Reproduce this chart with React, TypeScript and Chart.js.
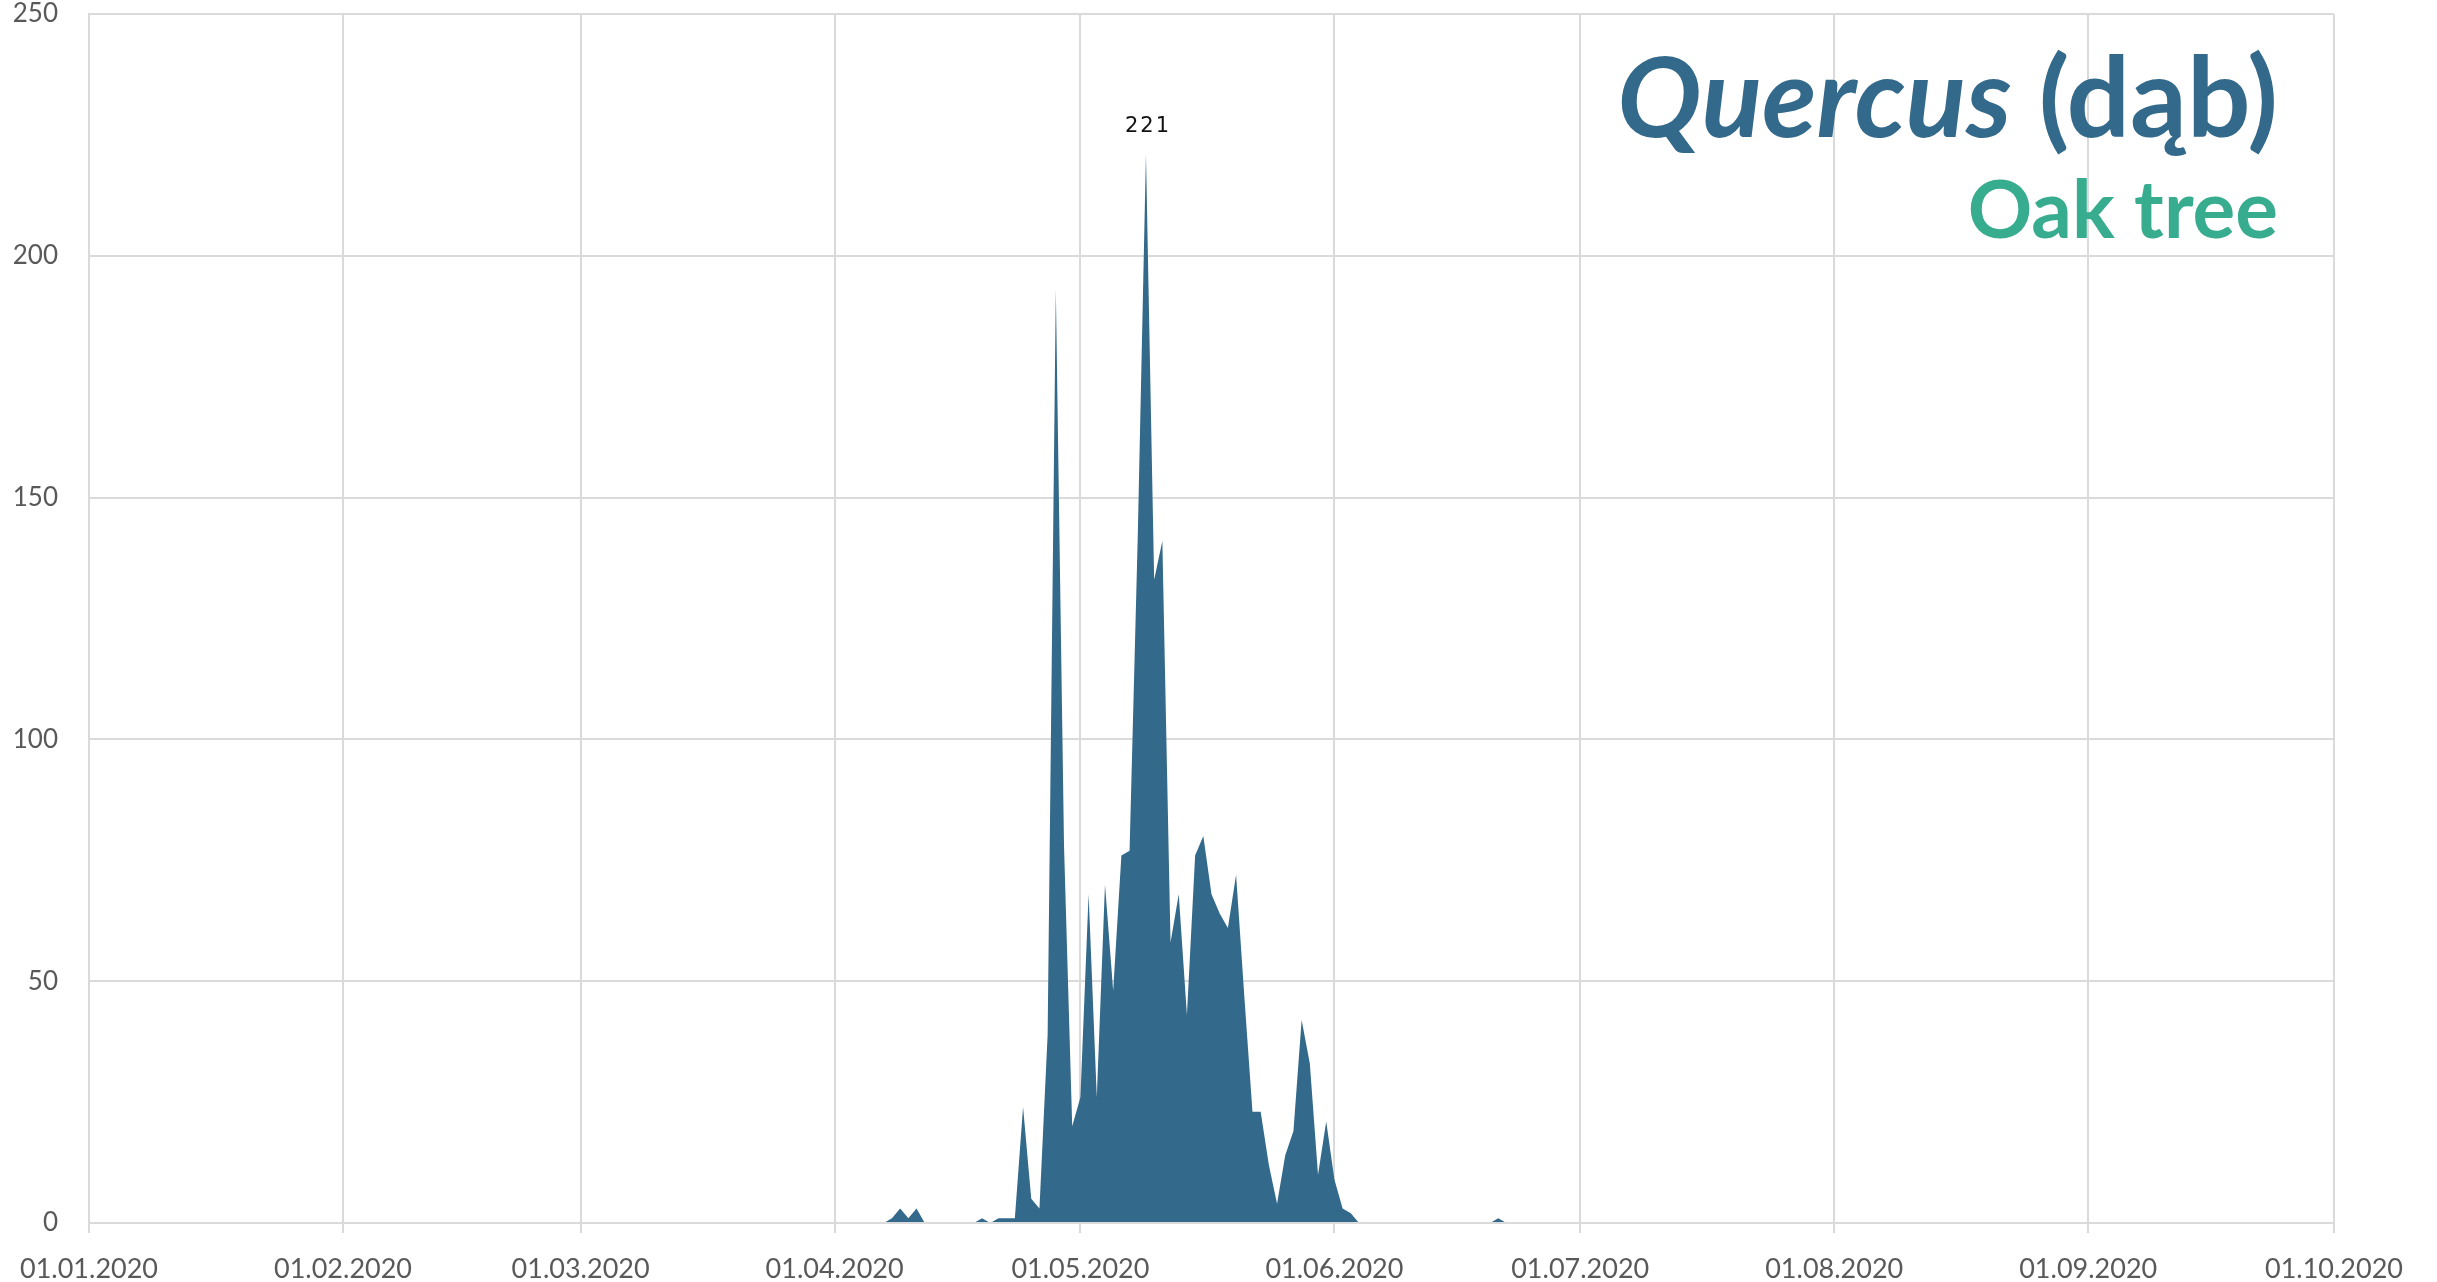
import React, { useEffect, useRef } from 'react';
import { Chart, registerables } from 'chart.js';

Chart.register(...registerables);

// ---- data ----
const AXIS_START = '2020-01-01';
const AXIS_END = '2020-10-01';
const MONTH_TICKS = [
  '2020-01-01', '2020-02-01', '2020-03-01', '2020-04-01', '2020-05-01',
  '2020-06-01', '2020-07-01', '2020-08-01', '2020-09-01', '2020-10-01',
];
const SERIES_START = '2020-04-07';
// daily pollen counts from 07.04.2020 to 22.06.2020
const POLLEN_VALUES = [
  0, 1, 3, 1, 3, 0, 0, 0, 0, 0, 0, 0, 1, 0, 1, 1, 1, 24, 5, 3,
  39, 193, 78, 20, 26, 68, 26, 70, 48, 76, 77, 142, 221, 133, 141, 58, 68, 43, 76, 80,
  68, 64, 61, 72, 47, 23, 23, 12, 4, 14, 19, 42, 33, 10, 21, 9, 3, 2, 0,
  0, 0, 0, 0, 0, 0, 0, 0, 0, 0, 0, 0, 0, 0, 0, 0, 1, 0,
];
const Y_TICKS = [0, 50, 100, 150, 200, 250];
const TITLE_LATIN = 'Quercus';
const TITLE_LOCAL = '(dąb)';
const SUBTITLE = 'Oak tree';

const DAY_MS = 86400000;
const toUTC = (s: string) => {
  const [y, m, d] = s.split('-').map(Number);
  return Date.UTC(y, m - 1, d);
};
const dayIndex = (s: string) => Math.round((toUTC(s) - toUTC(AXIS_START)) / DAY_MS);
const fmtDay = (idx: number) => {
  const dt = new Date(toUTC(AXIS_START) + idx * DAY_MS);
  const dd = String(dt.getUTCDate()).padStart(2, '0');
  const mm = String(dt.getUTCMonth() + 1).padStart(2, '0');
  return `${dd}.${mm}.${dt.getUTCFullYear()}`;
};

const FILL = '#33698a';
const GREEN = '#38ac8f';
const GRID = '#dadada';
const TICK = '#595959';

const cornerTitle = {
  id: 'cornerTitle',
  afterDraw(chart: any) {
    const { ctx, chartArea } = chart;
    const right = chartArea.right - 56;
    ctx.save();
    ctx.textBaseline = 'alphabetic';
    ctx.textAlign = 'left';
    const upright = 'bold 112px Lato';
    const italic = 'italic bold 112px Lato';
    ctx.font = upright;
    const wLocal = ctx.measureText(TITLE_LOCAL).width;
    const wSpace = ctx.measureText(' ').width;
    ctx.font = italic;
    const wLatin = ctx.measureText(TITLE_LATIN).width;
    const y1 = chartArea.top + 123;
    const x = right - wLocal - wSpace - wLatin;
    ctx.fillStyle = FILL;
    ctx.fillText(TITLE_LATIN, x, y1);
    ctx.font = upright;
    ctx.fillText(TITLE_LOCAL, right - wLocal, y1);
    ctx.font = 'bold 80px Lato';
    ctx.fillStyle = GREEN;
    ctx.textAlign = 'right';
    ctx.fillText(SUBTITLE, right, chartArea.top + 224);
    ctx.restore();
  },
};

const peakLabel = {
  id: 'peakLabel',
  afterDatasetsDraw(chart: any) {
    const ds = chart.data.datasets[0].data as { x: number; y: number }[];
    let best = 0;
    ds.forEach((p, i) => { if (p.y > ds[best].y) best = i; });
    const el = chart.getDatasetMeta(0).data[best];
    if (!el) return;
    const { ctx } = chart;
    ctx.save();
    ctx.font = '21px "DejaVu Sans"';
    (ctx as any).letterSpacing = '2px';
    ctx.fillStyle = '#111';
    ctx.textAlign = 'center';
    ctx.textBaseline = 'alphabetic';
    ctx.fillText(String(ds[best].y), el.x + 2, el.y - 22);
    ctx.restore();
  },
};

export default function App() {
  const ref = useRef<HTMLCanvasElement>(null);
  useEffect(() => {
    if (!ref.current) return;
    const start = dayIndex(SERIES_START);
    const points = POLLEN_VALUES.map((v, i) => ({ x: start + i, y: v }));
    const tickDays = MONTH_TICKS.map(dayIndex);
    const chart = new Chart(ref.current, {
      type: 'line',
      data: {
        datasets: [{
          data: points,
          fill: 'origin',
          backgroundColor: FILL,
          borderColor: FILL,
          borderWidth: 0,
          pointRadius: 0,
          tension: 0,
        }],
      },
      options: {
        animation: false,
        responsive: false,
        devicePixelRatio: 1,
        layout: { padding: { top: 14, right: 103, left: 0, bottom: 0 } },
        plugins: { legend: { display: false }, tooltip: { enabled: false }, title: { display: false } },
        scales: {
          x: {
            type: 'linear',
            min: dayIndex(AXIS_START),
            max: dayIndex(AXIS_END),
            afterBuildTicks: (scale: any) => { scale.ticks = tickDays.map((v) => ({ value: v })); },
            afterFit: (scale: any) => { scale.height = 59; },
            ticks: {
              callback: (v: any) => fmtDay(Number(v)),
              color: TICK,
              font: { family: 'Lato', size: 27 },
              padding: 20,
              maxRotation: 0,
              autoSkip: false,
            },
            grid: { color: GRID, lineWidth: 2, tickLength: 10, drawTicks: true },
            border: { color: GRID, width: 2, z: 1 },
          },
          y: {
            min: 0,
            max: 250,
            afterBuildTicks: (scale: any) => { scale.ticks = Y_TICKS.map((v) => ({ value: v })); },
            afterFit: (scale: any) => {
              scale.width = 89;
              scale.paddingTop = 0;
              scale.paddingBottom = 0;
            },
            ticks: {
              color: TICK,
              font: { family: 'Lato', size: 26 },
              padding: 31,
            },
            grid: { color: GRID, lineWidth: 2, drawTicks: false },
            border: { color: GRID, width: 2 },
          },
        },
      },
      plugins: [cornerTitle, peakLabel],
    });
    return () => chart.destroy();
  }, []);
  return (
    <div style={{ position: 'fixed', left: 0, top: 0, width: 2437, height: 1282, background: '#fff' }}>
      <canvas ref={ref} width={2437} height={1282} />
    </div>
  );
}
